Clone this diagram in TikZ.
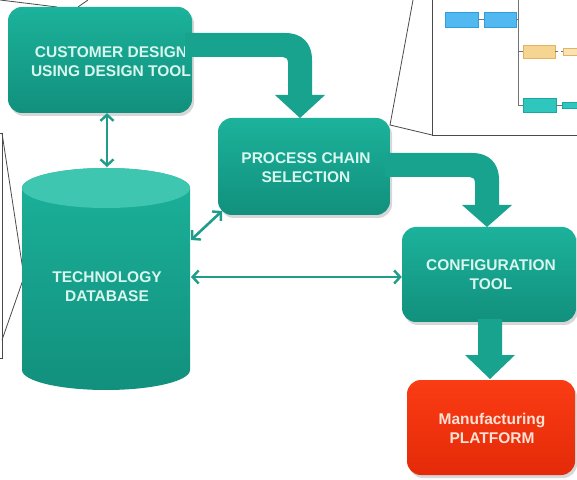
\documentclass[tikz,border=0pt]{standalone}
\usepackage{fontspec}
\setmainfont{Liberation Sans}
\usetikzlibrary{arrows.meta,shadows}

\definecolor{tealTop}{HTML}{1CB29B}
\definecolor{tealBot}{HTML}{11907D}
\definecolor{tealArrow}{HTML}{17A38E}
\definecolor{tealLine}{HTML}{1E9D89}
\definecolor{tealCap}{HTML}{3EC6B0}
\definecolor{mint}{HTML}{D8F6EE}
\definecolor{redTop}{HTML}{FA3C14}
\definecolor{redBot}{HTML}{E42A08}
\definecolor{peach}{HTML}{FFE2D6}
\definecolor{frameGrey}{HTML}{4A4A4A}
\definecolor{flowBlue}{HTML}{52B9F0}
\definecolor{flowBlueEdge}{HTML}{2E9FE0}
\definecolor{flowSand}{HTML}{F6D593}
\definecolor{flowSandEdge}{HTML}{E3B35E}
\definecolor{flowCyan}{HTML}{2FC6BE}
\definecolor{flowCyanEdge}{HTML}{1AA8A2}

\tikzset{
  stagebox/.style={rectangle, rounded corners=14pt, top color=tealTop, bottom color=tealBot,
    draw=none, inner sep=0pt,
    drop shadow={shadow xshift=2pt, shadow yshift=-3pt, opacity=0.22, fill=black!70}},
  platformbox/.style={stagebox, top color=redTop, bottom color=redBot},
  caption/.style={align=center, text=mint, font=\fontsize{15.5}{19}\selectfont\bfseries},
  fatarrow/.style={fill=tealArrow, draw=none},
  linkarrow/.style={draw=tealLine, line width=2.6pt,
    {Straight Barb[length=6pt,width=13pt,line width=2.4pt]}-{Straight Barb[length=6pt,width=13pt,line width=2.4pt]}},
  callout/.style={draw=frameGrey, line width=0.8pt},
  mini/.style={rectangle, inner sep=0pt, line width=0.5pt},
  minilink/.style={draw=black!55, line width=0.5pt}
}

\begin{document}
\begin{tikzpicture}[x=1pt,y=1pt]
\useasboundingbox (0,0) rectangle (577,479);
\fill[white] (0,0) rectangle (577,479);

% call-out lines at the top left and left edge
\draw[callout] (0,479) -- (57,472);
\draw[callout] (88,479) -- (78,472);
\draw[callout] (0,346) -- (2,346) -- (2,121) -- (0,121);
\draw[callout] (2,346) -- (24,202) -- (2,139);

% database cylinder
\shade[top color=tealTop, bottom color=tealBot]
  (22,291) -- (22,109) arc[start angle=180, end angle=360, x radius=84, y radius=20]
  -- (190,291) arc[start angle=0, end angle=180, x radius=84, y radius=20] -- cycle;
\fill[tealCap] (106,291) ellipse[x radius=84, y radius=20];
\node[minimum width=168pt, minimum height=222pt, inner sep=0pt] (db) at (106,200) {};
\node[caption] (dbtext) at (107,192) {TECHNOLOGY\\DATABASE};
\coordinate (dbtop) at (107,312);
\coordinate (dbside) at (191,239);
\coordinate (dbmid) at (191,202);

% main stages
\node[stagebox, minimum width=184pt, minimum height=106pt] (cust) at (100,419) {};
\node[caption] (custtext) at (111,417) {CUSTOMER DESIGN\\USING DESIGN TOOL};

\node[stagebox, minimum width=172pt, minimum height=97pt] (proc) at (304,312.5) {};
\node[caption] (proctext) at (306,311) {PROCESS CHAIN\\SELECTION};

\node[stagebox, minimum width=174pt, minimum height=95pt] (conf) at (489,204.5) {};
\node[caption] (conftext) at (491,204) {CONFIGURATION\\TOOL};

\node[platformbox, minimum width=168pt, minimum height=95pt] (manuf) at (491,51.5) {};
\node[caption, text=peach] (manuftext) at (492,51) {Manufacturing\\PLATFORM};

% broad flow arrows between the stages
\fill[fatarrow] (185,446) -- (285,446) .. controls (302,446) and (312,436) .. (312,419)
  -- (312,384) -- (325,384) -- (300,361) -- (275,384) -- (288,384) -- (288,416)
  .. controls (288,420) and (286,422) .. (283,422) -- (185,422) -- cycle;
\fill[fatarrow] (385,326) -- (472,326) .. controls (489,326) and (499,316) .. (499,299)
  -- (499,274) -- (512,274) -- (487,252) -- (462,274) -- (475,274) -- (475,296)
  .. controls (475,300) and (473,302) .. (470,302) -- (385,302) -- cycle;
\fill[fatarrow] (478,160) -- (478,124) -- (465,124) -- (490,100) -- (515,124)
  -- (502,124) -- (502,160) -- cycle;

% two-way links to the database
\draw[linkarrow] (dbtop |- cust.south) -- (dbtop);
\draw[linkarrow] (dbside) -- (222,268);
\draw[linkarrow] (dbmid) -- (dbmid -| conf.west);

% inset of the process-chain graph at the top right
\coordinate (inset) at (390,354);
\draw[callout] (413,479) -- (inset) -- (432,344);
\fill[white] (432,344) rectangle (577,479);
\draw[callout] (577,344) -- (432,344) -- (432,479);

\node[mini, fill=flowBlue, draw=flowBlueEdge, minimum width=33pt, minimum height=15pt] (fa) at (461.5,459.5) {};
\node[mini, fill=flowBlue, draw=flowBlueEdge, minimum width=32pt, minimum height=15pt] (fb) at (500,459.5) {};
\draw[minilink] (fa.east) -- (fb.west);
\draw[minilink] (518,479) -- (518,374);
\draw[minilink] (fb.east) -- (518,459.5);

\node[mini, fill=flowSand, draw=flowSandEdge, minimum width=32pt, minimum height=13pt] (sa) at (539,427.5) {};
\node[mini, fill=flowSand!70, draw=flowSandEdge, minimum width=16pt, minimum height=7pt, anchor=west] (sb) at (563,427.5) {};
\draw[minilink] (518,427.5) -- (sa.west);
\draw[minilink, dashed] (sa.east) -- (sb.west);

\node[mini, fill=flowCyan, draw=flowCyanEdge, minimum width=33pt, minimum height=14pt] (ca) at (539.5,374) {};
\node[mini, fill=flowCyan, draw=flowCyanEdge, minimum width=17pt, minimum height=6pt, anchor=west] (cb) at (562,374) {};
\draw[minilink] (518,374) -- (ca.west);
\draw[minilink] (ca.east) -- (cb.west);
\end{tikzpicture}
\end{document}
